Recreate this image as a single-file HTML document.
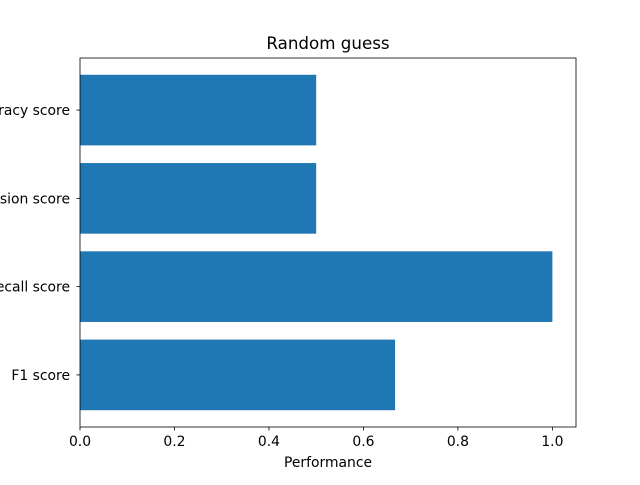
<!DOCTYPE html>
<html><head><meta charset="utf-8"><style>
body{margin:0;background:#fff;}
text{font-family:"DejaVu Sans","Liberation Sans",sans-serif;}
</style></head><body>
<svg id="chart" width="640" height="480" xmlns="http://www.w3.org/2000/svg">
<rect width="640" height="480" fill="#fff"/>
<g id="plot"></g>
</svg>
<script>
const categories=["F1 score","Recall score","Precision score","Accuracy score"];
const values=[0.667,1.0,0.5,0.5];
const xTicks=[0,0.2,0.4,0.6,0.8,1.0];
const xTickLabels=["0.0","0.2","0.4","0.6","0.8","1.0"];
const L=80,R=576,T=58,B=427;
const xmin=0,xmax=1.05;
const ymin=-0.59,ymax=3.59;
const sx=v=>L+(v-xmin)/(xmax-xmin)*(R-L);
const sy=v=>B-(v-ymin)/(ymax-ymin)*(B-T);
const g=document.getElementById('plot');
const NS="http://www.w3.org/2000/svg";
function mk(t,a){const e=document.createElementNS(NS,t);for(const k in a)e.setAttribute(k,a[k]);g.appendChild(e);return e;}
values.forEach((v,i)=>{
  const r=mk('rect',{x:sx(0),y:sy(i+0.4),width:sx(v)-sx(0),height:sy(i-0.4)-sy(i+0.4),fill:'#1f77b4'});
  
  
  const tk=mk('line',{x1:L-3.5,x2:L,y1:sy(i),y2:sy(i),stroke:'#000','stroke-width':0.8});
  const t=mk('text',{x:L-10,y:sy(i)+5,'text-anchor':'end','font-size':'13.9px'});
  t.textContent=categories[i];
  
  
});
xTicks.forEach((v,i)=>{
  mk('line',{x1:sx(v),x2:sx(v),y1:B,y2:B+3.5,stroke:'#000','stroke-width':0.8});
  const t=mk('text',{x:sx(v),y:B+19,'text-anchor':'middle','font-size':'13.9px'});
  t.textContent=xTickLabels[i];
  
  
});
const f=mk('rect',{x:L,y:T,width:R-L,height:B-T,fill:'none',stroke:'#000','stroke-width':0.8});


const ti=mk('text',{x:(L+R)/2,y:49,'text-anchor':'middle','font-size':'16.7px'});
ti.textContent='Random guess';


const xl=mk('text',{x:(L+R)/2,y:467,'text-anchor':'middle','font-size':'13.9px'});
xl.textContent='Performance';


</script>
</body></html>
